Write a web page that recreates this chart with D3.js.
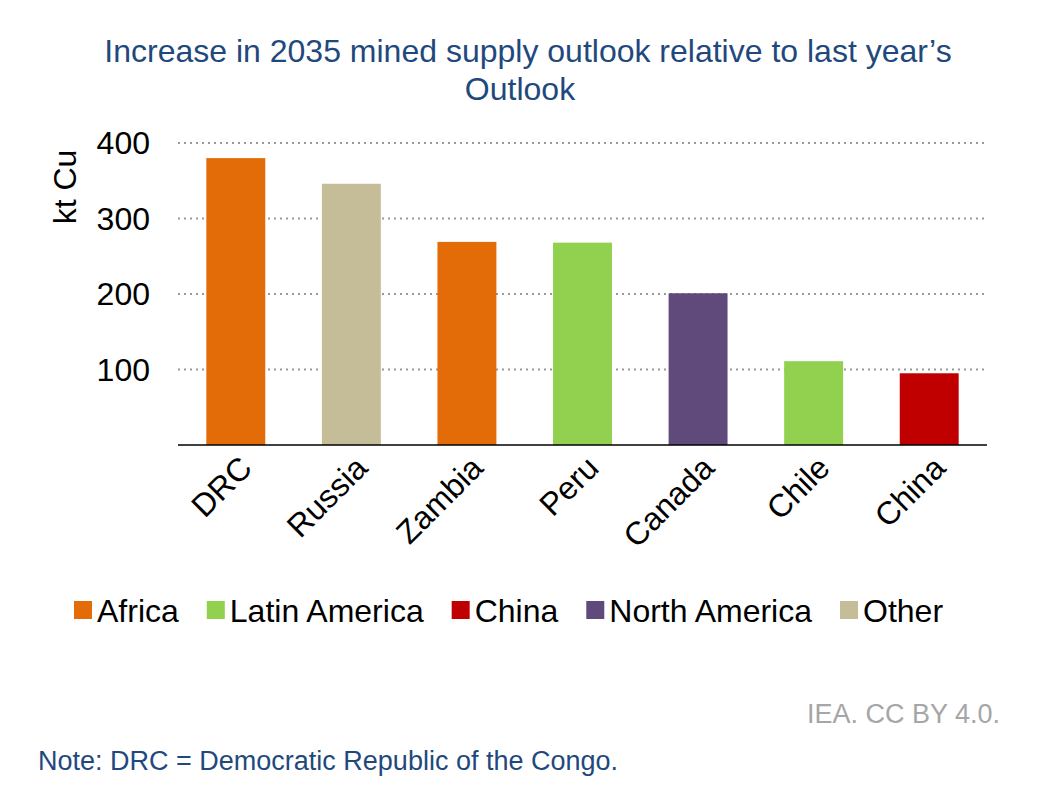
<!DOCTYPE html>
<html><head><meta charset="utf-8">
<script src="https://cdn.jsdelivr.net/npm/d3@7"></script>
<style>body{margin:0;background:#fff;font-family:"Liberation Sans",Arial,sans-serif;}</style>
</head><body>
<svg id="c" width="1060" height="810"></svg>
<script>
// data
const countries = ['DRC', 'Russia', 'Zambia', 'Peru', 'Canada', 'Chile', 'China'];
const values = [380, 346, 269, 268, 201, 111, 95];
const regions = ['Africa', 'Other', 'Africa', 'Latin America', 'North America', 'Latin America', 'China'];
const legendNames = ['Africa', 'Latin America', 'China', 'North America', 'Other'];
const legendColors = ['#e36c09', '#92d050', '#c00000', '#604a7b', '#c4bd97'];
const yTicks = [100, 200, 300, 400];

const svg = d3.select('#c');
const color = d3.scaleOrdinal().domain(legendNames).range(legendColors);
const x = d3.scaleBand().domain(countries).range([178, 987]).paddingInner(0.49).paddingOuter(0.245);
const y = d3.scaleLinear().domain([0, 400]).range([445, 143]);

//标题
svg.append('text').attr('x', 528).attr('y', 62).attr('text-anchor', 'middle')
	.attr('font-size', 32).attr('fill', '#1f497d')
	.text('Increase in 2035 mined supply outlook relative to last year\u2019s');
svg.append('text').attr('x', 520).attr('y', 100).attr('text-anchor', 'middle')
	.attr('font-size', 32).attr('fill', '#1f497d').text('Outlook');

//网格
svg.selectAll('.grid').data(yTicks).enter().append('line')
	.attr('x1', 178).attr('x2', 987)
	.attr('y1', d => y(d)).attr('y2', d => y(d))
	.attr('stroke', '#999').attr('stroke-width', 2).attr('stroke-dasharray', '2,4');
svg.selectAll('.yl').data(yTicks).enter().append('text')
	.attr('x', 150).attr('y', d => y(d) + 11).attr('text-anchor', 'end')
	.attr('font-size', 32).text(d => d);
svg.append('text').attr('transform', 'translate(76,187) rotate(-90)')
	.attr('text-anchor', 'middle').attr('font-size', 32).text('kt Cu');

//柱子
svg.selectAll('.bar').data(countries).enter().append('rect')
	.attr('x', d => x(d)).attr('width', x.bandwidth())
	.attr('y', (d, i) => y(values[i])).attr('height', (d, i) => y(0) - y(values[i]))
	.attr('fill', (d, i) => color(regions[i]));
svg.append('line').attr('x1', 178).attr('x2', 987).attr('y1', 445).attr('y2', 445)
	.attr('stroke', '#000').attr('stroke-width', 1.5);

svg.selectAll('.xl').data(countries).enter().append('text')
	.attr('transform', d => `translate(${x(d) + x.bandwidth() / 2 + 18},${470}) rotate(-45)`)
	.attr('text-anchor', 'end').attr('font-size', 32).text(d => d);

//图例
let lx = 74;
legendNames.forEach((n, i) => {
	svg.append('rect').attr('x', lx).attr('y', 601).attr('width', 18).attr('height', 18).attr('fill', legendColors[i]);
	const t = svg.append('text').attr('x', lx + 23).attr('y', 622).attr('font-size', 32).text(n);
	lx += 23 + t.node().getComputedTextLength() + 28;
});

svg.append('text').attr('x', 1000).attr('y', 723).attr('text-anchor', 'end')
	.attr('font-size', 27).attr('fill', '#a6a6a6').text('IEA. CC BY 4.0.');
svg.append('text').attr('x', 38).attr('y', 770).attr('font-size', 27).attr('fill', '#1f497d')
	.text('Note: DRC = Democratic Republic of the Congo.');
</script>
</body></html>
